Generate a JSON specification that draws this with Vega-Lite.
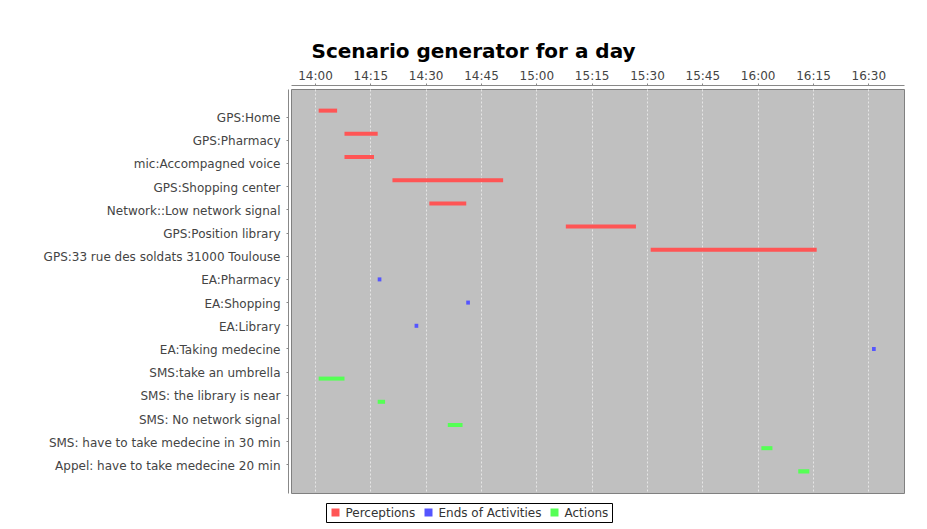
{
  "$schema": "https://vega.github.io/schema/vega-lite/v6.json",
  "autosize": "none",
  "width": 613,
  "height": 404,
  "padding": {"left": 291, "top": 89, "right": 23, "bottom": 36},
  "background": "white",
  "title": {"text": "Scenario generator for a day", "font": "DejaVu Sans", "fontSize": 20, "fontWeight": "bold", "color": "black", "offset": 7, "frame": "bounds", "anchor": "middle"},
  "data": {"values": [
    {"task": "GPS:Home", "series": "Perceptions", "start": "2012-01-01T14:01:00", "end": "2012-01-01T14:06:00"},
    {"task": "GPS:Pharmacy", "series": "Perceptions", "start": "2012-01-01T14:08:00", "end": "2012-01-01T14:17:00"},
    {"task": "mic:Accompagned voice", "series": "Perceptions", "start": "2012-01-01T14:08:00", "end": "2012-01-01T14:16:00"},
    {"task": "GPS:Shopping center", "series": "Perceptions", "start": "2012-01-01T14:21:00", "end": "2012-01-01T14:51:00"},
    {"task": "Network::Low network signal", "series": "Perceptions", "start": "2012-01-01T14:31:00", "end": "2012-01-01T14:41:00"},
    {"task": "GPS:Position library", "series": "Perceptions", "start": "2012-01-01T15:08:00", "end": "2012-01-01T15:27:00"},
    {"task": "GPS:33 rue des soldats 31000 Toulouse", "series": "Perceptions", "start": "2012-01-01T15:31:00", "end": "2012-01-01T16:16:00"},
    {"task": "EA:Pharmacy", "series": "Ends of Activities", "start": "2012-01-01T14:17:00", "end": "2012-01-01T14:18:00"},
    {"task": "EA:Shopping", "series": "Ends of Activities", "start": "2012-01-01T14:41:00", "end": "2012-01-01T14:42:00"},
    {"task": "EA:Library", "series": "Ends of Activities", "start": "2012-01-01T14:27:00", "end": "2012-01-01T14:28:00"},
    {"task": "EA:Taking medecine", "series": "Ends of Activities", "start": "2012-01-01T16:31:00", "end": "2012-01-01T16:32:00"},
    {"task": "SMS:take an umbrella", "series": "Actions", "start": "2012-01-01T14:01:00", "end": "2012-01-01T14:08:00"},
    {"task": "SMS: the library is near", "series": "Actions", "start": "2012-01-01T14:17:00", "end": "2012-01-01T14:19:00"},
    {"task": "SMS: No network signal", "series": "Actions", "start": "2012-01-01T14:36:00", "end": "2012-01-01T14:40:00"},
    {"task": "SMS: have to take medecine in 30 min", "series": "Actions", "start": "2012-01-01T16:01:00", "end": "2012-01-01T16:04:00"},
    {"task": "Appel: have to take medecine 20 min", "series": "Actions", "start": "2012-01-01T16:11:00", "end": "2012-01-01T16:14:00"}
  ]},
  "mark": {"type": "bar"},
  "encoding": {
    "y": {
      "field": "task", "type": "nominal", "sort": null,
      "scale": {"paddingInner": 0, "paddingOuter": 0.71},
      "axis": {"title": null, "labelFont": "DejaVu Sans", "labelFontSize": 12, "labelColor": "#444", "labelLimit": 400, "labelOffset": 1, "tickSize": 2, "tickColor": "#888", "offset": 3, "domainColor": "#888", "labelPadding": 6, "grid": false}
    },
    "yOffset": {
      "field": "series", "type": "nominal",
      "sort": ["Perceptions", "Ends of Activities", "Actions"],
      "scale": {"paddingInner": 0.375, "paddingOuter": 0.49}
    },
    "x": {
      "field": "start", "type": "temporal",
      "scale": {"domain": ["2012-01-01T13:53:30", "2012-01-01T16:39:40"]},
      "axis": {"orient": "top", "title": null, "format": "%H:%M",
        "values": ["2012-01-01T14:00:00", "2012-01-01T14:15:00", "2012-01-01T14:30:00", "2012-01-01T14:45:00", "2012-01-01T15:00:00", "2012-01-01T15:15:00", "2012-01-01T15:30:00", "2012-01-01T15:45:00", "2012-01-01T16:00:00", "2012-01-01T16:15:00", "2012-01-01T16:30:00"],
        "labelFont": "DejaVu Sans", "labelFontSize": 12, "labelColor": "#444", "labelPadding": 1,
        "tickSize": 2, "tickColor": "#888", "domainColor": "#888", "offset": 4,
        "grid": true, "gridColor": "#e6e6e6", "gridDash": [2, 2], "gridWidth": 1, "labelFlush": false}
    },
    "x2": {"field": "end"},
    "color": {
      "field": "series", "type": "nominal",
      "scale": {"domain": ["Perceptions", "Ends of Activities", "Actions"], "range": ["#FF5555", "#5555FF", "#55FF55"]},
      "legend": {"title": null, "orient": "none", "legendX": 35, "legendY": 414, "direction": "horizontal",
        "symbolType": "square", "symbolSize": 64, "symbolStrokeWidth": 0, "labelFont": "DejaVu Sans", "labelFontSize": 12, "labelColor": "#333",
        "strokeColor": "black", "padding": 3.5, "columnPadding": 7, "labelOffset": 4}
    }
  },
  "config": {
    "view": {"fill": "#C0C0C0", "stroke": "#808080", "strokeWidth": 1}
  }
}
